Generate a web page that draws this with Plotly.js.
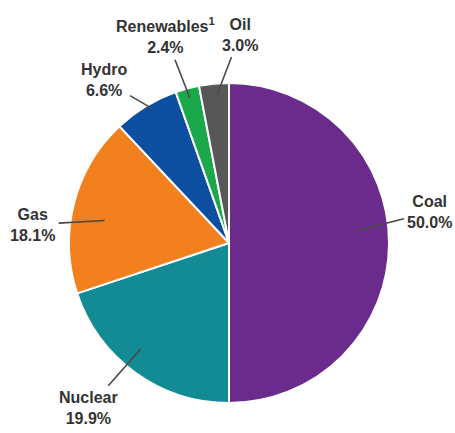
<!DOCTYPE html>
<html>
<head>
<meta charset="utf-8">
<script src="https://cdn.plot.ly/plotly-3.0.1.min.js"></script>
<style>html,body{margin:0;padding:0;background:#fff;}#chart{width:455px;height:433px;}</style>
</head>
<body>
<div id="chart"></div>
<script>
// Data
const categories = ["Coal", "Nuclear", "Gas", "Hydro", "Renewables<sup>1</sup>", "Oil"];
const shares = [50.0, 19.9, 18.1, 6.6, 2.4, 3.0];
const valueLabels = ["50.0%", "19.9%", "18.1%", "6.6%", "2.4%", "3.0%"];

// Styles / placement (layout only)
const colors = ["#6a2b8d", "#138b95", "#f2801f", "#0c4e9f", "#1ba84b", "#575757"];
const labelPlacement = [
  {shift: -5.4, frac: 0.79, ax: 75, ay: -19},
  {shift: 4.0, frac: 0.86, ax: -52, ay: 59},
  {shift: -4.0, frac: 0.79, ax: -72, ay: 4},
  {shift: 1.5, frac: 0.97, ax: -48, ay: -28},
  {shift: 0.0, frac: 0.94, ax: -24, ay: -62},
  {shift: 0.8, frac: 0.93, ax: 23, ay: -60}
];

const total = shares.reduce((a, b) => a + b, 0);
let cum = 0;
const annotations = shares.map((v, i) => {
  const mid = (cum + v / 2) / total * 360;
  cum += v;
  const p = labelPlacement[i];
  const a = (mid + p.shift) * Math.PI / 180;
  return {
    xref: "paper", yref: "paper",
    x: 0.5 + 0.5 * p.frac * Math.sin(a),
    y: 0.5 + 0.5 * p.frac * Math.cos(a),
    ax: p.ax, ay: p.ay,
    text: "<b>" + categories[i] + "<br>" + valueLabels[i] + "</b>",
    showarrow: true, arrowhead: 0, arrowwidth: 1.6, arrowcolor: "#4a4a4a",
    startstandoff: 2,
    font: {family: "Liberation Sans, Arial, sans-serif", size: 16, color: "#333333"},
    align: "center"
  };
});

const trace = {
  type: "pie",
  labels: categories,
  values: shares,
  sort: false,
  direction: "clockwise",
  rotation: 0,
  textinfo: "none",
  hoverinfo: "none",
  marker: {colors: colors, line: {color: "#ffffff", width: 2}},
  showlegend: false
};

const layout = {
  width: 455, height: 433,
  margin: {l: 69, r: 66, t: 83, b: 30},
  paper_bgcolor: "#ffffff",
  plot_bgcolor: "#ffffff",
  showlegend: false,
  annotations: annotations
};

Plotly.newPlot("chart", [trace], layout, {displayModeBar: false, staticPlot: true});
</script>
</body>
</html>
